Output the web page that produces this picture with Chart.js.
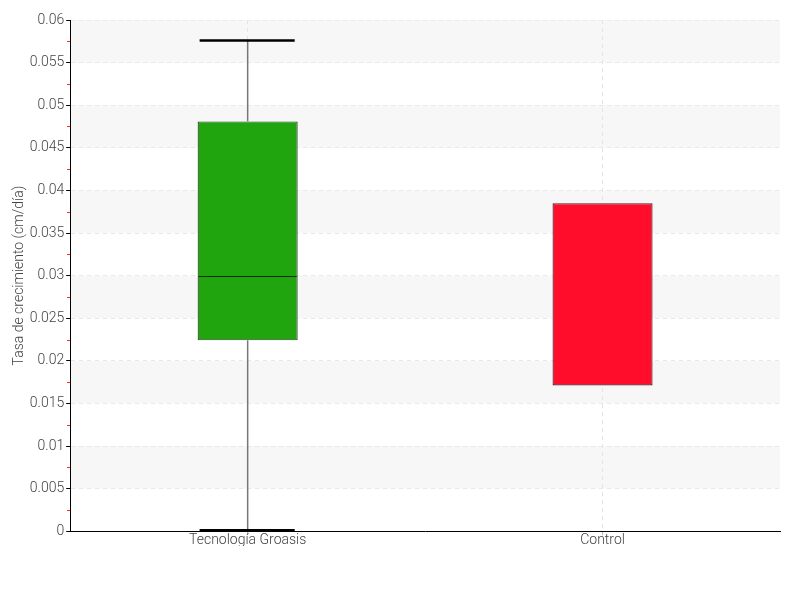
<!DOCTYPE html>
<html>
<head>
<meta charset="utf-8">
<script src="https://cdn.jsdelivr.net/npm/chart.js@4/dist/chart.umd.min.js"></script>
<style>
  html, body { margin: 0; padding: 0; background: #fff; }
  #wrap { width: 800px; height: 600px; }
</style>
</head>
<body>
<div id="wrap"><canvas id="c" width="800" height="600"></canvas></div>
<script>
const categories = ['Tecnología Groasis', 'Control'];
const whiskerMin = [0.0001, null];
const q1Values = [0.0224, 0.0171];
const medianValues = [0.0300, null];
const q3Values = [0.0481, 0.0385];
const whiskerMax = [0.0576, null];
const yTickValues = [0, 0.005, 0.01, 0.015, 0.02, 0.025, 0.03, 0.035, 0.04, 0.045, 0.05, 0.055, 0.06];
const yTickLabels = ['0', '0.005', '0.01', '0.015', '0.02', '0.025', '0.03', '0.035', '0.04', '0.045', '0.05', '0.055', '0.06'];
const yTitle = 'Tasa de crecimiento (cm/día)';

const FONT = "Roboto, sans-serif";

const bandsPlugin = {
  id: 'bands',
  beforeDraw(chart) {
    const {ctx, chartArea, scales: {y}} = chart;
    ctx.save();
    ctx.fillStyle = '#f7f7f7';
    for (let i = 1; i + 1 < yTickValues.length; i += 2) {
      const top = y.getPixelForValue(yTickValues[i + 1]);
      const bot = y.getPixelForValue(yTickValues[i]);
      ctx.fillRect(chartArea.left + 1, top, chartArea.right - chartArea.left - 1, bot - top);
    }
    ctx.restore();
  }
};

const boxPlugin = {
  id: 'boxExtras',
  afterDatasetsDraw(chart) {
    const {ctx, scales: {x, y}} = chart;
    const meta = chart.getDatasetMeta(0);
    ctx.save();
    categories.forEach((c, i) => {
      const bar = meta.data[i];
      const cx = x.getPixelForValue(i);
      const half = bar.width / 2;
      ctx.strokeStyle = '#777';
      ctx.lineWidth = 1.5;
      if (whiskerMax[i] != null) {
        ctx.beginPath();
        ctx.moveTo(cx, y.getPixelForValue(whiskerMax[i]));
        ctx.lineTo(cx, y.getPixelForValue(q3Values[i]));
        ctx.stroke();
      }
      if (whiskerMin[i] != null) {
        ctx.beginPath();
        ctx.moveTo(cx, y.getPixelForValue(q1Values[i]));
        ctx.lineTo(cx, y.getPixelForValue(whiskerMin[i]));
        ctx.stroke();
      }
      ctx.strokeStyle = '#000';
      ctx.lineWidth = 2.5;
      [whiskerMax[i], whiskerMin[i]].forEach(v => {
        if (v == null) return;
        const py = y.getPixelForValue(v);
        ctx.beginPath();
        ctx.moveTo(cx - half + 2, py);
        ctx.lineTo(cx + half - 3, py);
        ctx.stroke();
      });
      if (medianValues[i] != null) {
        ctx.strokeStyle = '#0a2a05';
        ctx.lineWidth = 1;
        const py = Math.round(y.getPixelForValue(medianValues[i])) + 0.5;
        ctx.beginPath();
        ctx.moveTo(cx - half + 1, py);
        ctx.lineTo(cx + half - 1, py);
        ctx.stroke();
      }
    });
    ctx.restore();
  },
  afterDraw(chart) {
    const {ctx, chartArea, scales: {y}} = chart;
    ctx.save();
    ctx.strokeStyle = '#ff2020';
    ctx.lineWidth = 1;
    for (let i = 0; i < yTickValues.length - 1; i++) {
      const mid = (yTickValues[i] + yTickValues[i + 1]) / 2;
      const py = Math.round(y.getPixelForValue(mid)) + 0.5;
      ctx.beginPath();
      ctx.moveTo(chartArea.left - 3, py);
      ctx.lineTo(chartArea.left, py);
      ctx.stroke();
    }
    ctx.restore();
  }
};

new Chart(document.getElementById('c'), {
  type: 'bar',
  data: {
    labels: categories,
    datasets: [{
      data: q1Values.map((v, i) => [v, q3Values[i]]),
      backgroundColor: ['#21a50e', '#ff0d2b'],
      borderColor: ['#2b4a24', '#5a1a22'],
      borderWidth: 1.2,
      borderSkipped: false,
      barPercentage: 1,
      categoryPercentage: 0.282
    }]
  },
  options: {
    responsive: false,
    animation: false,
    devicePixelRatio: 1,
    layout: { padding: { top: 20, right: 20, bottom: 54, left: 11 } },
    plugins: { legend: { display: false }, tooltip: { enabled: false } },
    scales: {
      x: {
        offset: true,
        grid: { offset: false, color: '#e4e4e4', drawTicks: true, tickLength: 4, tickColor: '#bbb' },
        border: { color: '#000', width: 1, dash: [4, 4] },
        ticks: { color: '#444', font: { family: FONT, size: 14, weight: 300 }, padding: -3 },
      },
      y: {
        min: 0, max: 0.06,
        afterBuildTicks(scale) { scale.ticks = yTickValues.map(v => ({ value: v })); },
        grid: { color: '#e8e8e8', tickLength: 4, tickColor: '#000' },
        border: { color: '#000', width: 1, dash: [4, 4] },
        ticks: {
          color: '#444', font: { family: FONT, size: 14, weight: 300 }, padding: 2,
          callback(value) { return yTickLabels[yTickValues.indexOf(value)]; }
        },
        title: { display: true, text: yTitle, color: '#444', font: { family: FONT, size: 14, weight: 300 }, padding: { top: 0, bottom: 0 } }
      }
    }
  },
  plugins: [bandsPlugin, boxPlugin]
});
</script>
</body>
</html>
